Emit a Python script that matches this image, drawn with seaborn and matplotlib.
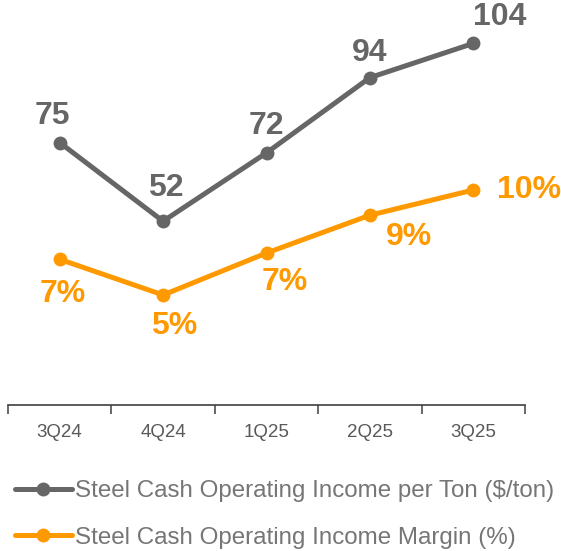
import matplotlib
matplotlib.use("Agg")
import matplotlib.pyplot as plt
import seaborn as sns
import pandas as pd
from matplotlib.lines import Line2D

quarters = ["3Q24", "4Q24", "1Q25", "2Q25", "3Q25"]
income_per_ton = [75, 52, 72, 94, 104]
income_margin = [6.7, 5.0, 7.0, 8.8, 10.0]

GRAY = "#666666"
ORANGE = "#FF9900"

sns.set_theme(style="white")
plt.rcParams["font.family"] = ["Liberation Sans", "DejaVu Sans"]

df = pd.DataFrame({"quarter": quarters, "x": range(len(quarters)),
                   "per_ton": income_per_ton, "margin": income_margin})

fig = plt.figure(figsize=(5.61, 5.51), dpi=100)
ax = fig.add_axes([8 / 561, (551 - 405) / 551, 517 / 561, 405 / 551])
ax2 = ax.twinx()

sns.lineplot(data=df, x="x", y="per_ton", ax=ax, color=GRAY, lw=3.6,
             marker="o", markersize=10, markeredgewidth=0, legend=False)
sns.lineplot(data=df, x="x", y="margin", ax=ax2, color=ORANGE, lw=3.6,
             marker="o", markersize=10, markeredgewidth=0, legend=False)

ax.set_xlim(-0.5, len(quarters) - 0.5)
ax.set_ylim(-1.75, 116.7)
ax2.set_ylim(-0.24, 19.05)

# category labels centred, tick marks on the boundaries
ax.set_xticks(range(len(quarters)))
ax.set_xticklabels(quarters, fontsize=13.5, color="#595959")
ax.tick_params(axis="x", which="major", length=0, pad=14)
ax.set_xticks([i - 0.5 for i in range(len(quarters) + 1)], minor=True)
ax.tick_params(axis="x", which="minor", length=6.5, width=1.1, color="#404040",
               direction="out", bottom=True)
ax.set_yticks([])
ax2.set_yticks([])
ax.set_xlabel("")
ax.set_ylabel("")
ax2.set_ylabel("")
for a in (ax, ax2):
    for side in ("top", "left", "right"):
        a.spines[side].set_visible(False)
ax.spines["bottom"].set_visible(True)
ax.spines["bottom"].set_color("#404040")
ax.spines["bottom"].set_linewidth(1.2)
ax2.spines["bottom"].set_visible(False)

# value labels (offsets in points)
gray_offsets = [(-5, 19), (2, 24), (0, 19), (0, 18), (19, 19)]
for i, (v, off) in enumerate(zip(income_per_ton, gray_offsets)):
    ax.annotate(f"{v:.0f}", (i, v), xytext=off, textcoords="offset points",
                ha="center", va="center", fontsize=23, fontweight="bold",
                color=GRAY)
orange_offsets = [(2, -25), (8, -22), (13, -21), (28, -16), (40, 0)]
for i, (v, off) in enumerate(zip(income_margin, orange_offsets)):
    ax2.annotate(f"{v:.0f}%", (i, v), xytext=off, textcoords="offset points",
                 ha="center", va="center", fontsize=23, fontweight="bold",
                 color=ORANGE)

handles = [
    Line2D([], [], color=GRAY, lw=3.6, marker="o", markersize=10, markeredgewidth=0),
    Line2D([], [], color=ORANGE, lw=3.6, marker="o", markersize=10, markeredgewidth=0),
]
labels = ["Steel Cash Operating Income per Ton ($/ton)",
          "Steel Cash Operating Income Margin (%)"]
leg = fig.legend(handles, labels, loc="upper left",
                 bbox_to_anchor=(15 / 561, 1 - 480 / 551), frameon=False,
                 fontsize=17.4, handlelength=2.35, handletextpad=0.12,
                 labelspacing=1.03, borderpad=0, borderaxespad=0)
for t in leg.get_texts():
    t.set_color("#767676")

fig.savefig("out.png", dpi=100)
